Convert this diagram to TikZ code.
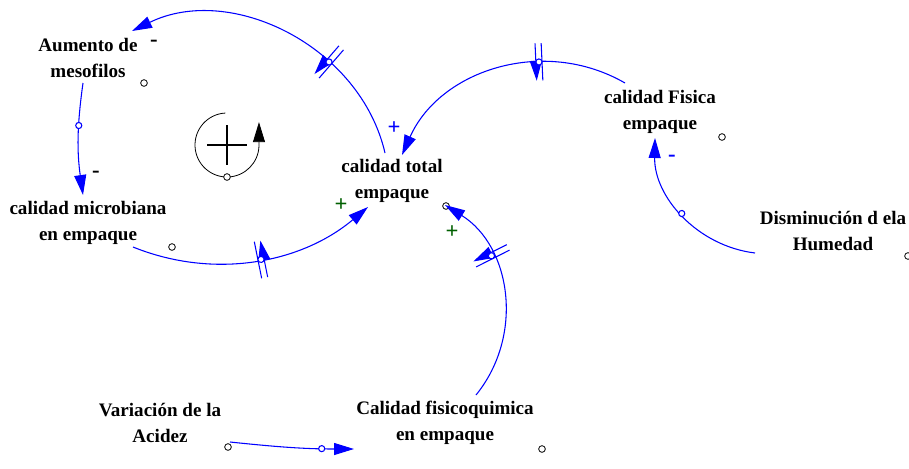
\documentclass[tikz,border=0pt]{standalone}
\usepackage{fontspec}
\setmainfont{Liberation Serif}
\usetikzlibrary{arrows.meta,decorations.markings}
\definecolor{sgngreen}{RGB}{0,95,0}
\begin{document}
\begin{tikzpicture}[x=0.75pt,y=-0.75pt,
  var/.style={font=\fontsize{14.3}{19.5}\selectfont\bfseries, align=center, inner sep=0pt},
  link/.style={blue, line width=0.8pt, -{Triangle[length=15pt,width=9pt]}},
  dot/.style={circle, draw=black, line width=0.6pt, fill=white, inner sep=0pt, minimum size=5pt},
  sgn/.style={font=\fontsize{17}{17}\selectfont\bfseries, inner sep=0pt},
  delay/.style={postaction={decorate, decoration={markings, mark=at position #1 with {
      \draw[blue, line width=0.8pt] (-2.3pt,-14pt) -- (-2.3pt,14pt) (2.3pt,-14pt) -- (2.3pt,14pt);
      \draw[blue, line width=0.8pt, fill=white] (0,0) circle (2.3pt);}}}},
  valve/.style={postaction={decorate, decoration={markings, mark=at position #1 with {
      \draw[blue, line width=0.8pt, fill=white] (0,0) circle (2.3pt);}}}}
]
\useasboundingbox (0,0) rectangle (909,468);

% variables
\node[var] (aum) at (88,58)  {Aumento de\\mesofilos};
\node[var] (mic) at (88,223) {calidad microbiana\\en empaque};
\node[var] (tot) at (392,181) {calidad total\\empaque};
\node[var] (fis) at (660,112) {calidad Fisica\\empaque};
\node[var] (dis) at (833,231) {Disminución d ela\\Humedad};
\node[var] (var) at (160,423) {Variación de la\\Acidez};
\node[var] (cfq) at (445,423) {Calidad fisicoquimica\\en empaque};

% small markers beside variables
\node[dot] (daum) at (144,83) {};
\node[dot] (dmic) at (172,247) {};
\node[dot] (dtot) at (446,206) {};
\node[dot] (dfis) at (722,137) {};
\node[dot] (ddis) at (908,256) {};
\node[dot] (dvar) at (228,447) {};
\node[dot] (dcfq) at (542,449) {};

% connectors
\draw[link, delay=0.34] ([shift={(-7,-28)}]tot.center) to[out=103,in=26,looseness=1.0] ([shift={(44,-27)}]aum.center);
\draw[link, valve=0.38] ([shift={(-5,25)}]aum.center) to[out=-98,in=98] ([shift={(-5,-28)}]mic.center);
\draw[link, delay=0.52] ([shift={(45,24)}]mic.center) to[out=-22,in=220,looseness=0.94] ([shift={(-24,26)}]tot.center);
\draw[link, delay=0.34] ([shift={(-35,-29)}]fis.center) to[out=150,in=66,looseness=1.02] ([shift={(10,-26)}]tot.center);
\draw[link, valve=0.51] ([shift={(-78,22)}]dis.center) to[out=173,in=-91,looseness=0.98] ([shift={(-5,26)}]fis.center);
\draw[link, delay=0.68] ([shift={(31,-28)}]cfq.center) to[out=51,in=-32,looseness=1.03] ([shift={(53,24)}]tot.center);
\draw[link, valve=0.74] ([shift={(70,19)}]var.center) to[out=-6,in=180] ([shift={(-91,26)}]cfq.center);

% polarity signs
\node[sgn] (s1) at (154,43) {-};
\node[sgn] (s2) at (96,174) {-};
\node[sgn, blue] (s3) at (394,128) {+};
\node[sgn, sgngreen] (s4) at (341,205) {+};
\node[sgn, sgngreen] (s5) at (452,232) {+};
\node[sgn, blue] (s6) at (672,158) {-};

% loop symbol
\coordinate (lp) at (227,145);
\draw[line width=0.6pt, -{Triangle[length=15pt,width=9pt]}] (lp) ++(93:24pt) arc[start angle=93, end angle=358, radius=24pt] -- ++(0,-24);
\draw[line width=1.8pt] ([shift={(-20,0)}]lp) -- ([shift={(20,0)}]lp) ([shift={(0,-20)}]lp) -- ([shift={(0,20)}]lp);
\node[dot] (dlp) at (227,177) {};
\end{tikzpicture}
\end{document}
